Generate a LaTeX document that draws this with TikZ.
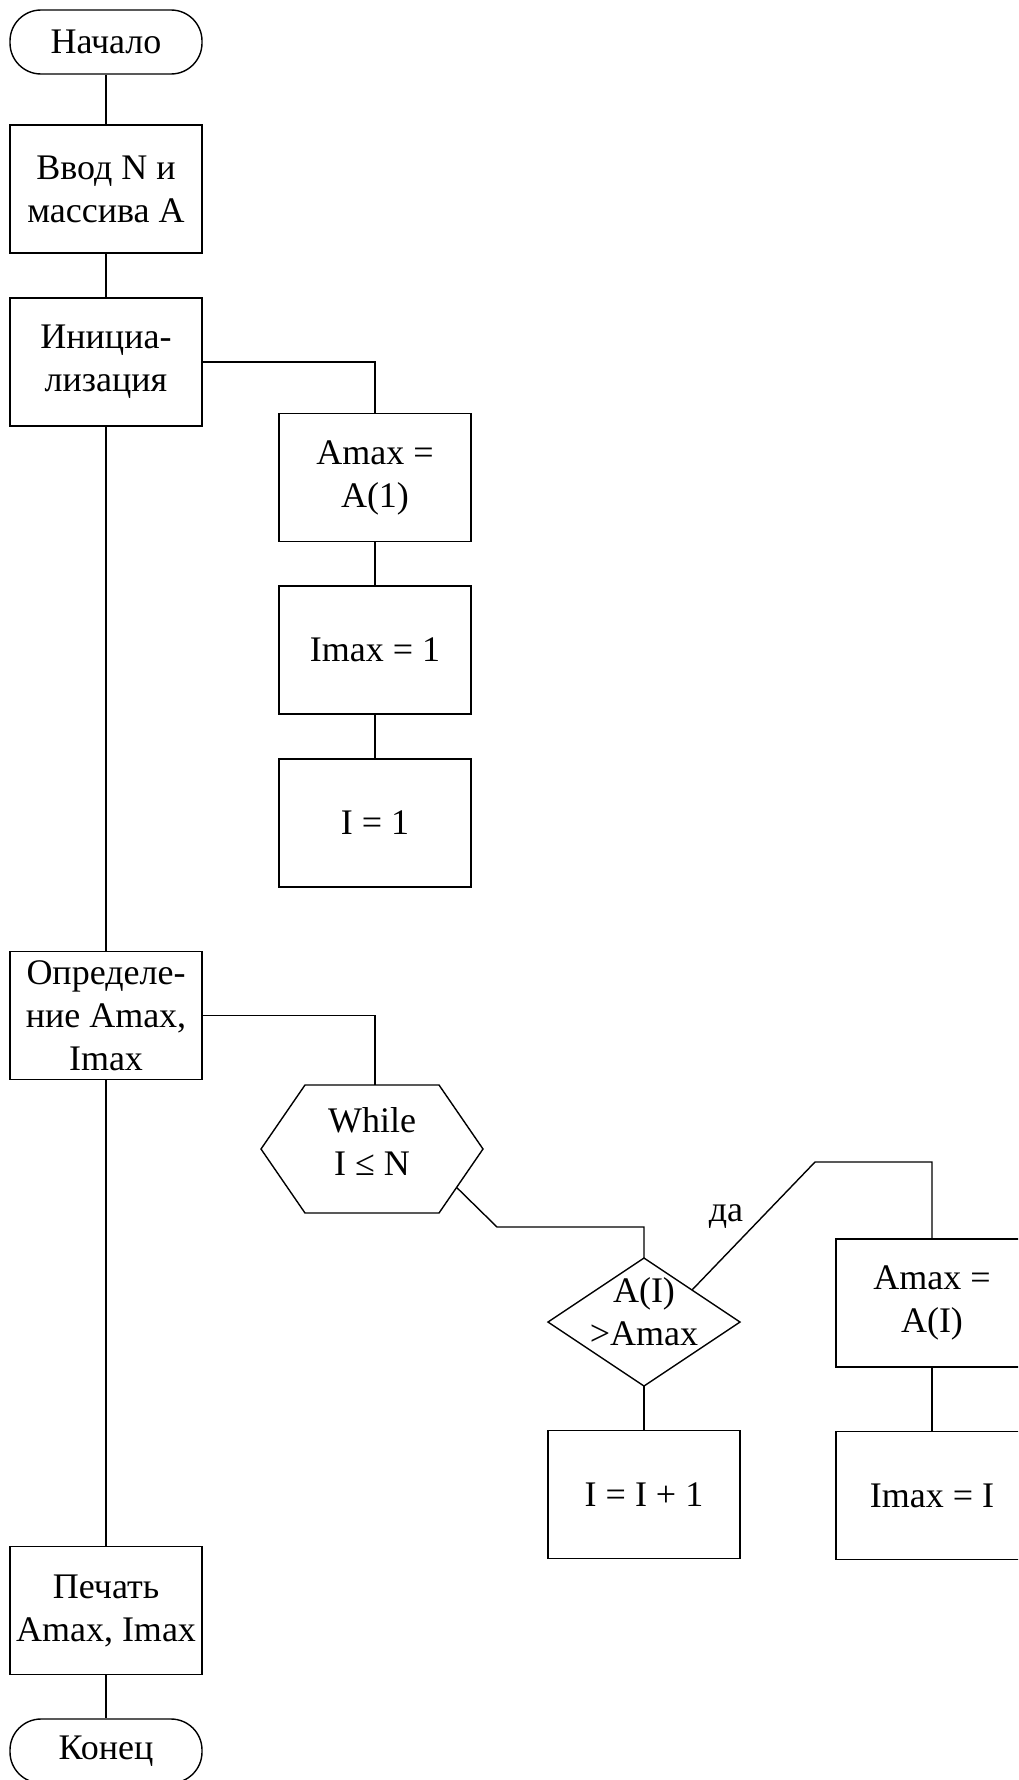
\documentclass[tikz,border=0pt]{standalone}
\usepackage{fontspec}
\setmainfont{Liberation Serif}
\begin{document}
\begin{tikzpicture}[x=1pt,y=-1pt,line width=1.4pt]
    \tikzset{block/.style = {draw=black, shape=rectangle, minimum width=192, minimum height=128, inner sep=0pt, align=center, font=\fontsize{36}{43}\selectfont},
      term/.style = {block, rounded corners=31, minimum height=64},
      plain/.style = {inner sep=0pt, align=center, font=\fontsize{36}{43}\selectfont}}
    \clip (0,0) rectangle (1018,1780);
    \def\xa{106}
    \def\xb{375}
    \def\xc{644}
    \def\xd{932}
    % main column
    \node[term] (start) at (\xa,42) {Начало};
    \node[block] (input) at (\xa,189) {Ввод N и\\массива A};
    \node[block] (init) at (\xa,362) {Инициа-\\лизация};
    \node[block] (find) at (\xa,1015.5) {Определе-\\ние Amax,\\Imax};
    \node[block] (print) at (\xa,1610.5) {Печать\\Amax, Imax};
    \node[term] (stop) at (\xa,1751) {Конец};
    % initialisation
    \node[block] (amaxone) at (\xb,477.5) {Amax =\\A(1)};
    \node[block] (imaxone) at (\xb,650) {Imax = 1};
    \node[block] (ione) at (\xb,823) {I = 1};
    % loop
    \node[plain] (while) at (372,1141) {While\\I ≤ N};
    \draw (305,1085) -- (439,1085) -- (483,1149) -- coordinate[pos=0.6] (while out) (439,1213) -- (305,1213) -- (261,1149) -- cycle;
    \coordinate (while top) at (\xb,1085);
    \node[plain] (cond) at (\xc,1312) {A(I)\\>Amax};
    \draw (\xc,1258) coordinate (cond top) -- coordinate[pos=0.5] (cond yes) (740,1322) -- (\xc,1386) coordinate (cond bot) -- (548,1322) -- cycle;
    \node[block] (inc) at (\xc,1494.5) {I = I + 1};
    \node[block] (amaxi) at (\xd,1303) {Amax =\\A(I)};
    \node[block] (imaxi) at (\xd,1495.5) {Imax = I};
    \coordinate (bend a) at (497,1227);
    \coordinate (bend b) at (815,1162);
    \node[plain, anchor=base] (yes) at (726,1221) {да};
    % connectors
    \draw (start) -- (input);
    \draw (input) -- (init);
    \draw (init) -- (find);
    \draw (find) -- (print);
    \draw (print) -- (stop);
    \draw (init.east) -| (amaxone.north);
    \draw (amaxone) -- (imaxone);
    \draw (imaxone) -- (ione);
    \draw (find.east) -| (while top);
    \draw (while out) -- (bend a) -| (cond top);
    \draw (cond yes) -- (bend b) -| (amaxi.north);
    \draw (cond bot) -- (inc);
    \draw (amaxi) -- (imaxi);
\end{tikzpicture}
\end{document}
